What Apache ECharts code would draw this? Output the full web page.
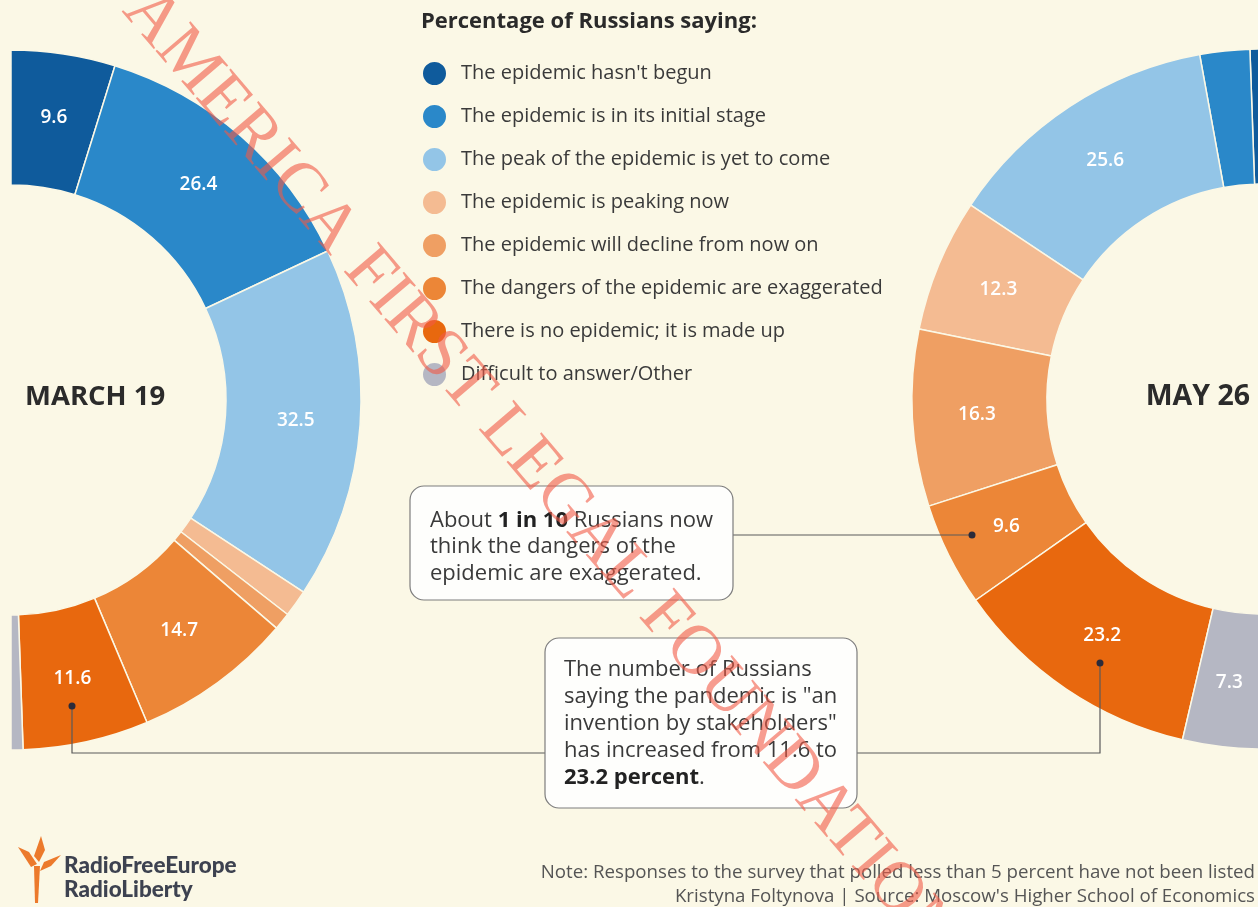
<!DOCTYPE html>
<html><head><meta charset="utf-8">
<script src="https://cdn.jsdelivr.net/npm/echarts@6/dist/echarts.min.js"></script>
<style>html,body{margin:0;padding:0;background:#fbf8e6}#c{width:1258px;height:907px}</style>
</head><body><div id="c"></div>
<script>
// ---- data ----
const categories = [
  "The epidemic hasn't begun",
  "The epidemic is in its initial stage",
  "The peak of the epidemic is yet to come",
  "The epidemic is peaking now",
  "The epidemic will decline from now on",
  "The dangers of the epidemic are exaggerated",
  "There is no epidemic; it is made up",
  "Difficult to answer/Other"
];
const marchValues = [9.6, 26.4, 32.5, 2.5, 1.6, 14.7, 11.6, 1.1];
const mayValues = [1.1, 4.6, 25.6, 12.3, 16.3, 9.6, 23.2, 7.3];
const dateLabels = ["MARCH 19", "MAY 26"];
const legendTitle = "Percentage of Russians saying:";
const noteLines = [
  "Note: Responses to the survey that polled less than 5 percent have not been listed",
  "Kristyna Foltynova | Source: Moscow's Higher School of Economics"
];

// ---- style ----
const palette = ['#0f5b9c', '#2a88c9', '#93c5e7', '#f4bb92', '#ef9f63', '#ec8637', '#e8680e', '#b5b7c3'];
const BG = '#fbf8e6';
const FONT = 'Open Sans';

const chart = echarts.init(document.getElementById('c'), null, {renderer: 'canvas'});
function mk(vals) {
  return categories.map((n, i) => ({name: n, value: vals[i], itemStyle: {color: palette[i]}}));
}
const pieBase = {
  type: 'pie', radius: [215, 350], avoidLabelOverlap: false, silent: true,
  label: {show: true, position: 'inside', color: '#fff', fontSize: 19, fontFamily: FONT, fontWeight: 600,
    formatter: p => p.value >= 5 ? p.value.toFixed(1) : ''},
  labelLine: {show: false},
  itemStyle: {borderColor: BG, borderWidth: 1.5},
  emphasis: {disabled: true}
};
const lineStyle = {stroke: '#5a5a5a', lineWidth: 1.2, fill: null};
const dotStyle = {fill: '#2b2b3a'};
const boxStyle = {fill: '#fefefc', stroke: '#7d7d7d', lineWidth: 1.2};
const rn = {fontSize: 22, fontFamily: FONT, fill: '#3a3a3a', color: '#3a3a3a'};
const rb = {fontSize: 22, fontFamily: FONT, fill: '#222', color: '#222', fontWeight: 'bold'};
const logoColor = '#ec7a2c';

const option = {
  backgroundColor: BG,
  animation: false,
  color: palette,
  legend: {
    data: categories, orient: 'vertical', left: 421, top: 60, padding: 0,
    itemWidth: 25, itemHeight: 25, itemGap: 16, icon: 'circle', selectedMode: false,
    textStyle: {fontSize: 20, lineHeight: 25, color: '#3a3a3a', fontFamily: FONT, padding: [0, 0, 0, 9]}
  },
  series: [
    Object.assign({}, pieBase, {name: dateLabels[0], center: [11, 400], startAngle: 90, endAngle: -90, clockwise: true, data: mk(marchValues)}),
    Object.assign({}, pieBase, {name: dateLabels[1], center: [1262, 399], startAngle: 90, endAngle: 270, clockwise: false, data: mk(mayValues)})
  ],
  graphic: [
    {type: 'text', x: 421, y: 22, style: {text: legendTitle, fontSize: 22, fontWeight: 'bold', fontFamily: FONT, fill: '#2a2a2a', verticalAlign: 'middle'}},
    {type: 'text', x: 25, y: 397, style: {text: dateLabels[0], fontSize: 27.5, fontWeight: 'bold', fontFamily: FONT, fill: '#2b2b2b', verticalAlign: 'middle', align: 'left'}},
    {type: 'text', x: 1250, y: 397, style: {text: dateLabels[1], fontSize: 28.5, fontWeight: 'bold', fontFamily: FONT, fill: '#2b2b2b', verticalAlign: 'middle', align: 'right'}},
    // connectors
    {type: 'polyline', shape: {points: [[733, 535], [972, 535]]}, style: lineStyle, z: 10},
    {type: 'circle', shape: {cx: 972, cy: 535, r: 3.5}, style: dotStyle, z: 11},
    {type: 'polyline', shape: {points: [[545, 753], [72, 753], [72, 706]]}, style: lineStyle, z: 10},
    {type: 'circle', shape: {cx: 72, cy: 706, r: 3.5}, style: dotStyle, z: 11},
    {type: 'polyline', shape: {points: [[857, 753], [1100, 753], [1100, 663]]}, style: lineStyle, z: 10},
    {type: 'circle', shape: {cx: 1100, cy: 663, r: 3.5}, style: dotStyle, z: 11},
    // callout boxes
    {type: 'rect', shape: {x: 410, y: 486, width: 323, height: 114, r: 14}, style: boxStyle, z: 12},
    {type: 'text', x: 430, y: 507, z: 13, style: {
      text: '{n|About }{b|1 in 10}{n| Russians now}\n{n|think the dangers of the}\n{n|epidemic are exaggerated.}',
      verticalAlign: 'top', lineHeight: 26.5, rich: {n: Object.assign({lineHeight: 26.5}, rn), b: Object.assign({lineHeight: 26.5}, rb)}}},
    {type: 'rect', shape: {x: 545, y: 638, width: 312, height: 170, r: 14}, style: boxStyle, z: 12},
    {type: 'text', x: 564, y: 656, z: 13, style: {
      text: '{n|The number of Russians}\n{n|saying the pandemic is "an}\n{n|invention by stakeholders"}\n{n|has increased from 11.6 to}\n{b|23.2 percent}{n|.}',
      verticalAlign: 'top', lineHeight: 27, rich: {n: Object.assign({lineHeight: 27}, rn), b: Object.assign({lineHeight: 27}, rb)}}},
    // logo
    {type: 'polygon', shape: {points: [[41, 836], [45, 850], [39, 862], [34, 856]]}, style: {fill: logoColor}},
    {type: 'polygon', shape: {points: [[18, 847], [29, 852], [37, 864], [31, 867]]}, style: {fill: logoColor}},
    {type: 'polygon', shape: {points: [[61, 855], [51, 866], [40, 871], [44, 862]]}, style: {fill: logoColor}},
    {type: 'polygon', shape: {points: [[34, 866], [40, 866], [38, 903], [35, 903]]}, style: {fill: logoColor}},
    {type: 'text', x: 64, y: 866, style: {text: 'RadioFreeEurope', fontSize: 22.5, fontWeight: 900, fontFamily: 'Lato', fill: '#3d4250', verticalAlign: 'middle'}},
    {type: 'text', x: 64, y: 890, style: {text: 'RadioLiberty', fontSize: 22.5, fontWeight: 900, fontFamily: 'Lato', fill: '#3d4250', verticalAlign: 'middle'}},
    // notes
    {type: 'text', x: 1255, y: 873, style: {text: noteLines[0], fontSize: 18.7, fontFamily: FONT, fill: '#555', align: 'right', verticalAlign: 'middle'}},
    {type: 'text', x: 1255, y: 897, style: {text: noteLines[1], fontSize: 18.7, fontFamily: FONT, fill: '#555', align: 'right', verticalAlign: 'middle'}},
    // watermark
    {type: 'text', x: 540, y: 473, rotation: -0.864, z: 50, silent: true, style: {
      text: 'AMERICA FIRST LEGAL FOUNDATION', fontSize: 70, fontFamily: 'Liberation Serif',
      fill: 'rgba(242,90,70,0.6)', align: 'center', verticalAlign: 'middle'}}
  ]
};
chart.setOption(option);
</script>
</body></html>
